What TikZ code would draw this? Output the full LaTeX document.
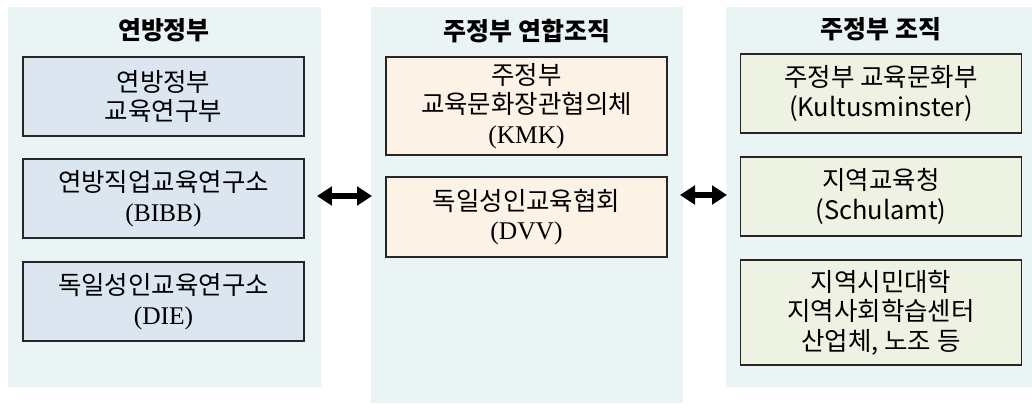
\documentclass[tikz,border=0pt]{standalone}
\usepackage{fontspec}
\setmainfont{Noto Sans CJK KR}
\newfontfamily\seriflat{Liberation Serif}
\usetikzlibrary{arrows.meta}
\definecolor{panelbg}{HTML}{EAF4F5}
\definecolor{fedfill}{HTML}{DCE6F1}
\definecolor{unionfill}{HTML}{FCF2E5}
\definecolor{statefill}{HTML}{EDF2E2}

\begin{document}
\begin{tikzpicture}[x=0.02cm,y=-0.02cm,
orgbox/.style={draw=black!85,line width=0.8pt,minimum width=5.62cm,minimum height=1.58cm,inner sep=0pt,align=center,font=\fontsize{14.5}{16.8}\selectfont},
fedbox/.style={orgbox,fill=fedfill},
unionbox/.style={orgbox,fill=unionfill},
statebox/.style={orgbox,fill=statefill},
coltitle/.style={font=\fontsize{14.2}{16}\selectfont\bfseries},
linkarrow/.style={line width=3.6pt,{Triangle[width=0.37cm,length=0.3cm]}-{Triangle[width=0.37cm,length=0.3cm]}}]
\useasboundingbox (0,0) rectangle (1032,403);
% background panels
\fill[panelbg] (8,7) rectangle (321,387);
\fill[panelbg] (371,7) rectangle (683,403);
\fill[panelbg] (726,7) rectangle (1032,387);
% column titles
\node[coltitle] (fedtitle) at (164,30) {연방정부};
\node[coltitle] (uniontitle) at (527,31) {주정부 연합조직};
\node[coltitle] (statetitle) at (881,29) {주정부 조직};
% federal government
\node[fedbox] (bmbf) at (163.5,96.5) {연방정부\\교육연구부};
\node[fedbox] (bibb) at (163.5,198.5) {연방직업교육연구소\\{\seriflat (BIBB)}};
\node[fedbox] (die) at (163.5,301.5) {독일성인교육연구소\\{\seriflat (DIE)}};
% state associations
\node[unionbox,minimum height=1.96cm] (kmk) at (526.5,106) {주정부\\교육문화장관협의체\\{\seriflat (KMK)}};
\node[unionbox,minimum height=1.6cm] (dvv) at (526.5,217) {독일성인교육협회\\{\seriflat (DVV)}};
% state organisations
\node[statebox] (kultus) at (881,93.5) {주정부 교육문화부\\(Kultusminster)};
\node[statebox] (schulamt) at (881,196.5) {지역교육청\\(Schulamt)};
\node[statebox,minimum height=2.1cm] (vhs) at (881,312.5) {지역시민대학\\지역사회학습센터\\산업체, 노조 등};
% links between columns
\coordinate (fedlink) at (317,196);
\coordinate (unionlinkL) at (372,196);
\coordinate (unionlinkR) at (680,195);
\coordinate (statelink) at (727,195);
\draw[linkarrow] (fedlink) -- (unionlinkL);
\draw[linkarrow] (unionlinkR) -- (statelink);
\end{tikzpicture}
\end{document}
